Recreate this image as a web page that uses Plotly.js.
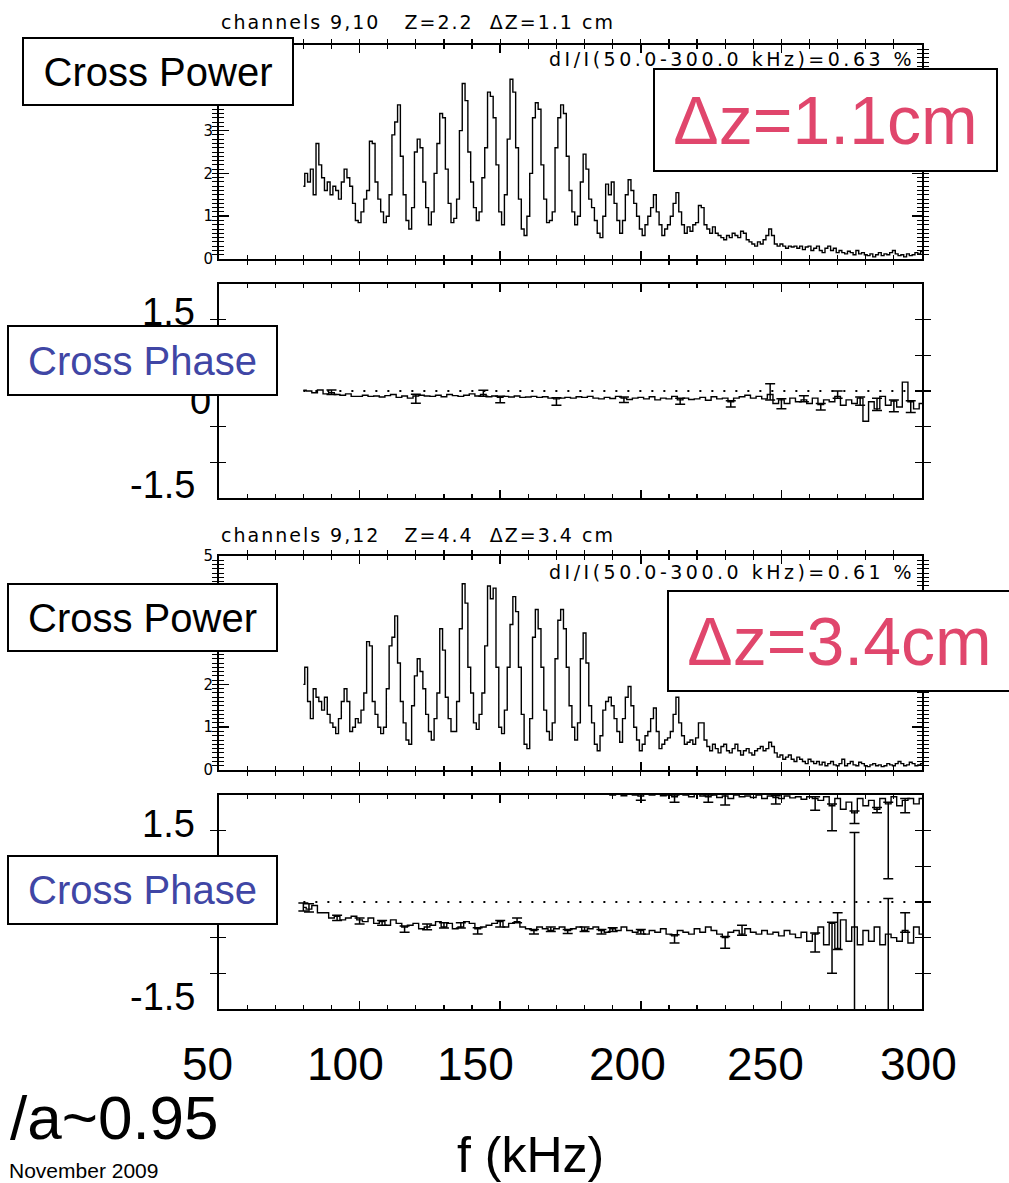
<!DOCTYPE html>
<html>
<head>
<meta charset="utf-8">
<script src="https://cdn.plot.ly/plotly-3.0.1.min.js"></script>
<style>
html,body{margin:0;padding:0;background:#fff;}
#chart{width:1009px;height:1183px;}
</style>
</head>
<body>
<div id="chart"></div>
<script>
// ---------------- DATA ----------------
// Cross power spectra: frequency grid (kHz), 1 kHz spacing
const freqPower = [80,81,82,83,84,85,86,87,88,89,90,91,92,93,94,95,96,97,98,99,
100,101,102,103,104,105,106,107,108,109,110,111,112,113,114,115,116,117,118,119,
120,121,122,123,124,125,126,127,128,129,130,131,132,133,134,135,136,137,138,139,
140,141,142,143,144,145,146,147,148,149,150,151,152,153,154,155,156,157,158,159,
160,161,162,163,164,165,166,167,168,169,170,171,172,173,174,175,176,177,178,179,
180,181,182,183,184,185,186,187,188,189,190,191,192,193,194,195,196,197,198,199,
200,201,202,203,204,205,206,207,208,209,210,211,212,213,214,215,216,217,218,219,
220,221,222,223,224,225,226,227,228,229,230,231,232,233,234,235,236,237,238,239,
240,241,242,243,244,245,246,247,248,249,250,251,252,253,254,255,256,257,258,259,
260,261,262,263,264,265,266,267,268,269,270,271,272,273,274,275,276,277,278,279,
280,281,282,283,284,285,286,287,288,289,290,291,292,293,294,295,296,297,298,299,300];

// channels 9,10 (dZ = 1.1 cm)
const power1 = [1.7,2.0,1.8,2.1,1.5,2.7,2.2,1.9,1.6,1.8,
1.5,1.7,1.6,1.4,1.8,2.1,1.9,1.7,1.3,0.9,
0.85,1.1,1.4,1.6,2.75,2.7,1.8,1.4,1.1,0.85,
1.0,1.5,2.9,3.2,3.6,2.4,1.5,0.9,0.7,1.2,
2.5,2.8,2.6,1.8,1.2,0.8,1.1,2.0,2.7,3.4,
3.3,2.1,1.3,0.85,0.95,1.4,3.0,4.1,3.7,2.5,
1.8,1.2,0.9,1.1,1.9,2.6,3.9,3.8,3.3,2.2,
1.1,0.8,1.5,2.8,4.2,3.9,2.6,1.4,0.7,0.55,
1.0,2.0,3.3,3.65,3.5,2.2,1.4,0.85,0.9,1.1,
2.6,3.3,3.6,3.4,2.4,1.6,1.1,0.8,1.0,1.8,
2.45,2.1,1.4,1.2,0.9,0.6,0.5,1.0,1.75,1.5,
1.8,1.3,0.9,0.6,0.9,1.5,1.85,1.6,1.3,1.0,
0.7,0.55,0.8,1.0,1.2,1.5,1.1,0.8,0.55,0.7,
0.8,1.0,1.3,1.55,1.1,0.8,0.6,0.75,0.65,0.8,
0.85,1.25,1.2,0.8,0.7,0.6,0.75,0.6,0.55,0.5,
0.45,0.55,0.5,0.6,0.55,0.5,0.65,0.6,0.45,0.4,
0.35,0.3,0.4,0.35,0.45,0.55,0.7,0.55,0.35,0.3,
0.35,0.3,0.25,0.3,0.28,0.3,0.25,0.3,0.22,0.28,
0.3,0.2,0.25,0.3,0.2,0.15,0.25,0.3,0.2,0.25,
0.15,0.2,0.15,0.12,0.18,0.15,0.1,0.2,0.12,0.15,
0.1,0.08,0.12,0.05,0.1,0.15,0.08,0.12,0.1,0.15,
0.2,0.12,0.08,0.1,0.05,0.12,0.08,0.1,0.15,0.12,
0.18];

// channels 9,12 (dZ = 3.4 cm)
const power2 = [2.0,2.4,1.6,1.2,1.9,1.7,1.6,1.4,1.7,1.3,
1.1,1.0,0.85,1.2,1.6,1.9,1.6,0.9,1.0,1.2,
1.1,1.4,1.8,3.0,2.9,1.6,1.3,1.0,0.85,1.0,
1.9,2.9,3.1,3.6,2.5,1.6,1.1,0.7,0.6,1.5,
2.2,2.6,2.3,1.9,1.3,0.9,0.7,1.2,1.8,3.3,
2.8,1.7,1.2,0.9,0.9,1.6,3.3,4.35,3.9,2.4,
1.8,1.1,0.95,1.3,1.8,2.9,4.3,4.0,4.25,2.4,
1.0,0.85,1.4,2.4,3.4,4.05,3.7,2.4,1.3,0.6,
0.5,1.2,3.1,3.75,3.3,2.4,1.4,0.9,0.7,1.1,
2.6,3.5,3.75,3.3,2.4,1.5,1.0,0.7,1.1,2.6,
3.2,2.5,1.5,1.1,0.6,0.45,0.8,1.4,1.6,1.7,
1.5,1.2,0.9,0.65,1.2,1.7,1.95,1.5,1.0,0.7,
0.45,0.6,0.8,0.9,1.2,1.45,0.9,0.5,0.6,0.7,
0.75,0.9,1.3,1.7,1.1,0.8,0.6,0.65,0.7,0.6,
0.75,1.1,1.1,0.7,0.55,0.45,0.6,0.5,0.4,0.55,
0.6,0.45,0.4,0.5,0.6,0.45,0.35,0.45,0.5,0.4,
0.35,0.45,0.5,0.55,0.45,0.5,0.65,0.55,0.4,0.3,
0.35,0.25,0.3,0.35,0.25,0.2,0.3,0.25,0.2,0.15,
0.25,0.2,0.15,0.2,0.12,0.18,0.1,0.15,0.2,0.12,
0.1,0.15,0.25,0.1,0.15,0.2,0.12,0.1,0.18,0.15,
0.1,0.08,0.12,0.15,0.1,0.12,0.08,0.1,0.15,0.12,
0.1,0.15,0.2,0.15,0.1,0.12,0.18,0.15,0.1,0.12,
0.15];

// Cross phase: frequency grid (kHz), 2 kHz spacing
const freqPhase = [80,82,84,86,88,90,92,94,96,98,
100,102,104,106,108,110,112,114,116,118,
120,122,124,126,128,130,132,134,136,138,
140,142,144,146,148,150,152,154,156,158,
160,162,164,166,168,170,172,174,176,178,
180,182,184,186,188,190,192,194,196,198,
200,202,204,206,208,210,212,214,216,218,
220,222,224,226,228,230,232,234,236,238,
240,242,244,246,248,250,252,254,256,258,
260,262,264,266,268,270,272,274,276,278,
280,282,284,286,288,290,292,294,296,298,300];

const phase1 = [0.02,0.0,-0.05,0.03,-0.08,-0.05,-0.1,-0.12,-0.08,-0.15,
-0.15,-0.12,-0.15,-0.14,-0.17,-0.13,-0.1,-0.18,-0.14,-0.2,
-0.14,-0.12,-0.14,-0.15,-0.12,-0.16,-0.1,-0.13,-0.15,-0.12,
-0.08,-0.14,-0.1,-0.16,-0.14,-0.18,-0.15,-0.17,-0.14,-0.18,
-0.17,-0.15,-0.18,-0.16,-0.2,-0.22,-0.2,-0.18,-0.2,-0.16,
-0.18,-0.15,-0.2,-0.22,-0.18,-0.21,-0.15,-0.2,-0.24,-0.2,
-0.18,-0.22,-0.16,-0.25,-0.2,-0.22,-0.15,-0.25,-0.2,-0.24,
-0.22,-0.18,-0.26,-0.16,-0.22,-0.2,-0.3,-0.2,-0.16,-0.12,
-0.2,-0.15,-0.22,-0.1,-0.35,-0.25,-0.35,-0.2,-0.3,-0.25,
-0.35,-0.2,-0.38,-0.25,-0.3,-0.15,-0.4,-0.25,-0.35,-0.2,
-0.85,-0.3,-0.5,-0.15,-0.4,-0.28,-0.45,0.25,-0.3,-0.5,
-0.35];

const phase2 = [-0.15,-0.2,-0.1,-0.3,-0.3,-0.45,-0.4,-0.5,-0.45,-0.4,
-0.5,-0.55,-0.45,-0.6,-0.55,-0.65,-0.5,-0.6,-0.7,-0.65,
-0.6,-0.75,-0.7,-0.65,-0.55,-0.7,-0.6,-0.75,-0.7,-0.55,
-0.6,-0.75,-0.7,-0.65,-0.6,-0.55,-0.7,-0.6,-0.55,-0.7,
-0.75,-0.8,-0.7,-0.75,-0.8,-0.75,-0.7,-0.8,-0.75,-0.7,
-0.8,-0.75,-0.7,-0.8,-0.85,-0.75,-0.8,-0.7,-0.8,-0.85,
-0.8,-0.9,-0.8,-0.85,-0.75,-0.9,-0.95,-0.8,-0.85,-0.9,
-0.75,-0.85,-0.7,-0.8,-0.9,-1.0,-0.85,-0.8,-0.9,-0.75,
-0.85,-0.9,-0.8,-0.9,-0.85,-0.95,-0.8,-0.9,-1.0,-0.85,
-1.1,-0.9,-0.7,-1.2,-0.6,-1.3,-0.5,-1.1,-0.7,-1.2,
-0.8,-1.1,-0.7,-1.2,-0.9,-1.0,-1.1,-0.8,-1.15,-0.7,
-0.9];

// wrapped copy of the 9,12 phase seen along the top edge (188-300 kHz)
const freqWrap = freqPhase.slice(54);
const phase2Wrap = [3.05,3.0,3.02,2.98,3.05,3.0,2.97,3.03,3.0,3.02,
2.98,3.0,2.95,3.02,3.0,2.95,3.02,2.97,2.95,3.0,
2.93,2.97,2.9,3.0,2.95,2.97,2.93,3.0,2.9,2.97,
2.93,2.9,2.97,2.92,2.95,2.88,2.95,2.9,2.85,2.95,
2.7,2.9,2.6,2.8,2.5,2.9,2.7,2.85,2.6,2.9,
2.75,2.95,2.7,2.85,2.9,2.75,2.9];

// error bars (kHz position, upper and lower extent)
const err1Freq = [90,120,144,150,170,194,214,232,246,250,258,264,270,278,284,290,296];
const err1Up   = [0.08,0.05,0.12,0.03,0.03,0.03,0.05,0.03,0.3,0.03,0.12,0.03,0.15,0.03,0.3,0.03,0.03];
const err1Down = [0.05,0.2,0.05,0.15,0.18,0.12,0.12,0.15,0.15,0.25,0.05,0.15,0.05,0.2,0.05,0.3,0.3];

const err2Freq = [80,82,92,100,108,116,124,130,136,142,150,156,162,168,174,180,186,190,200,212,230,236,262,268,270,276,288,294];
const err2Up   = [0.12,0.15,0.03,0.05,0.03,0.03,0.08,0.12,0.12,0.03,0.03,0.1,0.03,0.1,0.03,0.1,0.03,0.03,0.03,0.03,0.03,0.25,0.03,0.03,1.0,2.65,1.0,0.5];
const err2Down = [0.1,0.08,0.12,0.12,0.1,0.15,0.08,0.03,0.03,0.15,0.15,0.03,0.1,0.03,0.08,0.03,0.1,0.08,0.1,0.2,0.3,0.03,0.5,1.4,0.03,2.6,2.5,0.05];

const errWFreq = [200,212,224,230,248,262,268,276,284,288,294];
const errWUp   = [0.05,0.05,0.05,0.05,0.05,0.05,0.05,0.05,0.05,0.05,0.05];
const errWDown = [0.12,0.15,0.15,0.25,0.18,0.33,0.7,0.3,0.1,2.1,0.35];

// axis tick values / labels
const powerTicks = [0,1,2,3,4,5];
const powerLabels1 = ['0','1','2','3','',''];   // 4,5 hidden behind the "Cross Power" box
const powerLabels2 = ['0','1','2','','','5'];   // 3,4 hidden behind the "Cross Power" box

// text
const titles = ["channels 9,10   Z=2.2  \u0394Z=1.1 cm", "channels 9,12   Z=4.4  \u0394Z=3.4 cm"];
const rmsTexts = ["dI/I(50.0-300.0 kHz)=0.63 %", "dI/I(50.0-300.0 kHz)=0.61 %"];
const dzLabels = ["\u0394z=1.1cm", "\u0394z=3.4cm"];
const xBigLabels = ["50","100","150","200","250","300"];

// ---------------- LAYOUT HELPERS ----------------
const W = 1009, H = 1183;
const px = x => x / W;
const py = y => 1 - y / H;
const lookup = (fs, grid, vals) => fs.map(f => vals[grid.indexOf(f)]);

const lineStyle = {color:'black', width:1.4, shape:'hvh'};
const errStyle = {type:'data', symmetric:false, color:'black', thickness:1.5, width:5};
const traces = [
  {x:freqPower, y:power1, xaxis:'x', yaxis:'y', mode:'lines', line:lineStyle},
  {x:freqPhase, y:phase1, xaxis:'x2', yaxis:'y2', mode:'lines', line:lineStyle},
  {x:err1Freq, y:lookup(err1Freq, freqPhase, phase1), xaxis:'x2', yaxis:'y2', mode:'markers',
   marker:{size:1, opacity:0}, error_y:Object.assign({array:err1Up, arrayminus:err1Down}, errStyle)},
  {x:freqPower, y:power2, xaxis:'x3', yaxis:'y3', mode:'lines', line:lineStyle},
  {x:freqPhase, y:phase2, xaxis:'x4', yaxis:'y4', mode:'lines', line:lineStyle},
  {x:freqWrap, y:phase2Wrap, xaxis:'x4', yaxis:'y4', mode:'lines', line:lineStyle},
  {x:err2Freq, y:lookup(err2Freq, freqPhase, phase2), xaxis:'x4', yaxis:'y4', mode:'markers',
   marker:{size:1, opacity:0}, error_y:Object.assign({array:err2Up, arrayminus:err2Down}, errStyle)},
  {x:errWFreq, y:lookup(errWFreq, freqWrap, phase2Wrap), xaxis:'x4', yaxis:'y4', mode:'markers',
   marker:{size:1, opacity:0}, error_y:Object.assign({array:errWUp, arrayminus:errWDown}, errStyle)},
  // empty carrier traces so the overlay tick axes get drawn
  {x:[], y:[], xaxis:'x5', yaxis:'y', mode:'lines'},
  {x:[], y:[], xaxis:'x6', yaxis:'y2', mode:'lines'},
  {x:[], y:[], xaxis:'x7', yaxis:'y3', mode:'lines'},
  {x:[], y:[], xaxis:'x8', yaxis:'y4', mode:'lines'},
  {x:[], y:[], xaxis:'x', yaxis:'y5', mode:'lines'},
  {x:[], y:[], xaxis:'x3', yaxis:'y6', mode:'lines'}
].map(t => Object.assign({hoverinfo:'skip', showlegend:false}, t));

const xDomain = [px(219), px(922)];
const common = {showgrid:false, zeroline:false, tickcolor:'black', linecolor:'black', fixedrange:true};
// base x axis: frame + 10 kHz small ticks
function xBase(anchor){
  return Object.assign({domain:xDomain, anchor:anchor, range:[50,300], showline:true, mirror:'allticks',
    linewidth:2, ticks:'inside', ticklen:4, tickwidth:1.2, tick0:50, dtick:10, showticklabels:false}, common);
}
// overlay x axis: 50 kHz long ticks
function xMajor(base, anchor){
  return Object.assign({overlaying:base, anchor:anchor, range:[50,300], showline:false, mirror:'ticks',
    ticks:'inside', ticklen:8, tickwidth:1.5, tick0:50, dtick:50, showticklabels:false}, common);
}
// base power y axis: frame + dense small ticks
function yPowerBase(anchor, top, bottom){
  return Object.assign({domain:[py(bottom), py(top)], anchor:anchor, range:[0,5], showline:true, mirror:'allticks',
    linewidth:2, ticks:'inside', ticklen:5, tickwidth:1, tick0:0, dtick:0.1, showticklabels:false}, common);
}
// overlay power y axis: unit ticks with labels
function yPowerMajor(base, anchor, labels){
  return Object.assign({overlaying:base, anchor:anchor, side:'left', range:[0,5], showline:false, mirror:'ticks',
    ticks:'inside', ticklen:10, tickwidth:1.5, tickmode:'array', tickvals:powerTicks, ticktext:labels,
    ticklabelstandoff:5, tickfont:{family:'DejaVu Sans', size:15, color:'black'}}, common);
}
function yPhase(anchor, top, bottom){
  return Object.assign({domain:[py(bottom), py(top)], anchor:anchor, range:[-3,3], showline:true, mirror:'allticks',
    linewidth:2, ticks:'inside', ticklen:7, tickwidth:1.5, tick0:0, dtick:1, showticklabels:false}, common);
}

function ann(text, x, y, size, color, xanchor, family){
  return {xref:'paper', yref:'paper', x:px(x), y:py(y), text:text, showarrow:false,
    xanchor:xanchor || 'center', yanchor:'middle',
    font:{family:family || 'Liberation Sans, Arial, sans-serif', size:size, color:color || 'black'}};
}
function box(text, x0, x1, y0, y1, size, color){
  const a = ann(text, (x0 + x1) / 2, (y0 + y1) / 2, size, color, 'center');
  return Object.assign(a, {bgcolor:'white', bordercolor:'black', borderwidth:2, borderpad:0,
    width:(x1 - x0) - 4, height:(y1 - y0) - 4, align:'center', valign:'middle'});
}
const spaced = (t, s) => '<span style="letter-spacing:' + s + 'px">' + t + '</span>';
const idl = 'DejaVu Sans, sans-serif';
const pink = 'rgb(224,70,108)';
const blue = 'rgb(64,70,165)';

const xBigPos = [207,345,475,627,765,918];

const annotations = [
  // IDL panel titles / rms text
  ann(spaced(titles[0], 2), 219, 22, 19, 'black', 'left', idl),
  ann(spaced(rmsTexts[0], 3.5), 917, 59, 19, 'black', 'right', idl),
  ann(spaced(titles[1], 2), 219, 535, 19, 'black', 'left', idl),
  ann(spaced(rmsTexts[1], 3.5), 917, 572, 19, 'black', 'right', idl),
  // slide-level axis numbers
  ann('1.5', 197, 312, 38, 'black', 'right'),
  ann('0', 213, 401, 38, 'black', 'right'),
  ann('-1.5', 197, 485, 38, 'black', 'right'),
  ann('1.5', 197, 824, 38, 'black', 'right'),
  ann('-1.5', 197, 997, 38, 'black', 'right'),
  // boxes
  box('Cross Power', 22, 294, 37, 106, 40, 'black'),
  box(dzLabels[0], 653, 998, 68, 172, 68, pink),
  box('Cross Phase', 7, 278, 325, 396, 40, blue),
  box('Cross Power', 7, 278, 583, 652, 40, 'black'),
  box(dzLabels[1], 667, 1012, 590, 692, 68, pink),
  box('Cross Phase', 7, 278, 855, 925, 40, blue),
  // bottom text
  ann('f (kHz)', 530, 1155, 50, 'black', 'center'),
  ann('/a~0.95', 221, 1117, 62, 'black', 'right'),
  ann('November 2009', 160, 1170, 21, 'black', 'right')
].concat(xBigLabels.map((t, i) => ann(t, xBigPos[i], 1064, 46, 'black', 'center')));

const dotted = {color:'black', width:2, dash:'2px,10px'};
const shapes = [
  {type:'line', xref:'x2', yref:'y2', x0:80, x1:300, y0:0, y1:0, line:dotted, layer:'below'},
  {type:'line', xref:'x4', yref:'y4', x0:80, x1:300, y0:0, y1:0, line:dotted, layer:'below'}
];

const layout = {
  width:W, height:H, margin:{l:0, r:0, t:0, b:0},
  paper_bgcolor:'white', plot_bgcolor:'white', showlegend:false,
  xaxis:xBase('y'),   yaxis:yPowerBase('x', 45, 259),
  xaxis2:xBase('y2'), yaxis2:yPhase('x2', 284, 498),
  xaxis3:xBase('y3'), yaxis3:yPowerBase('x3', 556, 770),
  xaxis4:xBase('y4'), yaxis4:yPhase('x4', 795, 1009),
  xaxis5:xMajor('x', 'y'), xaxis6:xMajor('x2', 'y2'), xaxis7:xMajor('x3', 'y3'), xaxis8:xMajor('x4', 'y4'),
  yaxis5:yPowerMajor('y', 'x', powerLabels1), yaxis6:yPowerMajor('y3', 'x3', powerLabels2),
  annotations:annotations, shapes:shapes
};

Plotly.newPlot('chart', traces, layout, {displayModeBar:false, staticPlot:true});
</script>
</body>
</html>
